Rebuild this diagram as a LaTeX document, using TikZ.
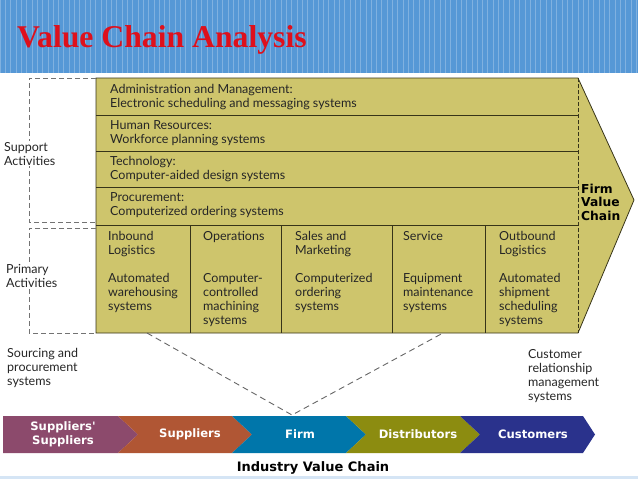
\documentclass[tikz,border=0pt]{standalone}
\usepackage{fontspec}
\setmainfont{Lato}
\newfontfamily\titlefont{Liberation Serif}
\newfontfamily\boldsans{DejaVu Sans}
\usetikzlibrary{positioning}

\definecolor{headblue}{RGB}{86,152,214}
\definecolor{titlered}{RGB}{222,16,28}
\definecolor{boxolive}{RGB}{206,197,108}
\definecolor{edgeolive}{RGB}{55,52,25}
\definecolor{cpurple}{RGB}{140,74,108}
\definecolor{corange}{RGB}{176,86,52}
\definecolor{cblue}{RGB}{0,118,170}
\definecolor{colive}{RGB}{140,140,16}
\definecolor{cnavy}{RGB}{42,50,140}

\begin{document}
\begin{tikzpicture}[x=1pt, y=-1pt,
  % base west = baseline of the last line
  txt/.style={anchor=base west, align=left, inner sep=0pt, text=black!85,
    font=\fontsize{12.5}{14}\selectfont},
  bold/.style={anchor=base west, align=left, inner sep=0pt,
    font=\boldsans\bfseries\fontsize{12.3}{13.5}\selectfont},
  chevtxt/.style={align=center, inner sep=0pt, text=white,
    font=\boldsans\bfseries\fontsize{11.6}{13.5}\selectfont},
  rule/.style={draw=edgeolive, line width=0.8pt},
  bracket/.style={draw=black!55, line width=1pt, dash pattern=on 5pt off 3pt},
  link/.style={draw=black!60, line width=0.9pt, dash pattern=on 6pt off 4pt}
]
\useasboundingbox (0,0) rectangle (638,479);

% header band
\fill[headblue] (0,0) rectangle (638,73);
\draw[white, opacity=0.25, line width=0.4pt, step=5.3] (0,0) grid (638,73);
\fill[headblue!25] (0,476) rectangle (638,479);
\node[anchor=base west, inner sep=0pt, text=titlered,
  font=\titlefont\bfseries\fontsize{31.7}{33}\selectfont] (title) at (17,47) {Value Chain Analysis};

% firm value chain
\fill[boxolive] (96,78) -- (578,78) -- (634,200) -- (578,333) -- (96,333) -- cycle;
\draw[rule] (96,78) -- (578,78) -- (634,200) -- (578,333) -- (96,333) -- cycle;
\foreach \y in {115,151,187,225}
  \draw[rule] (96,\y) -- (578,\y);
\foreach \x in {190,281,392,485}
  \draw[rule] (\x,225) -- (\x,333);
\draw[edgeolive, line width=0.8pt, dash pattern=on 4pt off 2pt] (578,78) -- (578,333);

% brackets
\draw[bracket] (96,78) -- (29,78) -- (29,222) -- (96,222);
\draw[bracket] (96,228) -- (29,228) -- (29,333) -- (96,333);

% support activities
\node[txt] (admin) at (110,107) {Administration and Management:\\Electronic scheduling and messaging systems};
\node[txt] (hr) at (110,143) {Human Resources:\\Workforce planning systems};
\node[txt] (tech) at (110,179) {Technology:\\Computer-aided design systems};
\node[txt] (proc) at (110,215) {Procurement:\\Computerized ordering systems};

% primary activities
\node[txt] (inbound) at (108,310) {Inbound\\Logistics\\[14pt]Automated\\warehousing\\systems};
\node[txt] (ops) at (203,324) {Operations\\[28pt]Computer-\\controlled\\machining\\systems};
\node[txt] (sales) at (295,310) {Sales and\\Marketing\\[14pt]Computerized\\ordering\\systems};
\node[txt] (service) at (403,310) {Service\\[28pt]Equipment\\maintenance\\systems};
\node[txt] (outbound) at (499,324) {Outbound\\Logistics\\[14pt]Automated\\shipment\\scheduling\\systems};

\node[bold] (firmvc) at (581,220) {Firm\\Value\\Chain};

% side labels
\node[txt, fill=white, inner sep=1pt] (support) at (3,165) {Support\\Activities};
\node[txt, fill=white, inner sep=1pt] (primary) at (5,287) {Primary\\Activities};
\node[txt] (sourcing) at (7,385) {Sourcing and\\procurement\\systems};
\node[txt] (crm) at (528,400) {Customer\\relationship\\management\\systems};

% industry value chain
\fill[cpurple] (3,416) -- (118,416) -- (138,434.5) -- (118,453) -- (3,453) -- cycle;
\foreach \s/\c in {118/corange, 232/cblue, 346/colive}
  \fill[\c] (\s,416) -- (\s+114,416) -- (\s+134,434.5) -- (\s+114,453) -- (\s,453) -- (\s+20,434.5) -- cycle;
\fill[cnavy] (460,416) -- (583,416) -- (595,434.5) -- (583,453) -- (460,453) -- (480,434.5) -- cycle;

\node[chevtxt] (ssup) at (63,434.5) {Suppliers'\\Suppliers};
\node[chevtxt] (sup) at (190,434.5) {Suppliers};
\node[chevtxt] (firm) at (300,434.5) {Firm};
\node[chevtxt] (dist) at (418,434.5) {Distributors};
\node[chevtxt] (cust) at (533,434.5) {Customers};
\node[anchor=base, inner sep=0pt, font=\boldsans\bfseries\fontsize{13}{14}\selectfont] (ivc) at (313,471) {Industry Value Chain};

% links
\coordinate (pa) at (147,333);
\coordinate (pb) at (443,333);
\coordinate (meet) at (292,415);
\draw[link] (pa) -- (meet) -- (pb);
\end{tikzpicture}
\end{document}
